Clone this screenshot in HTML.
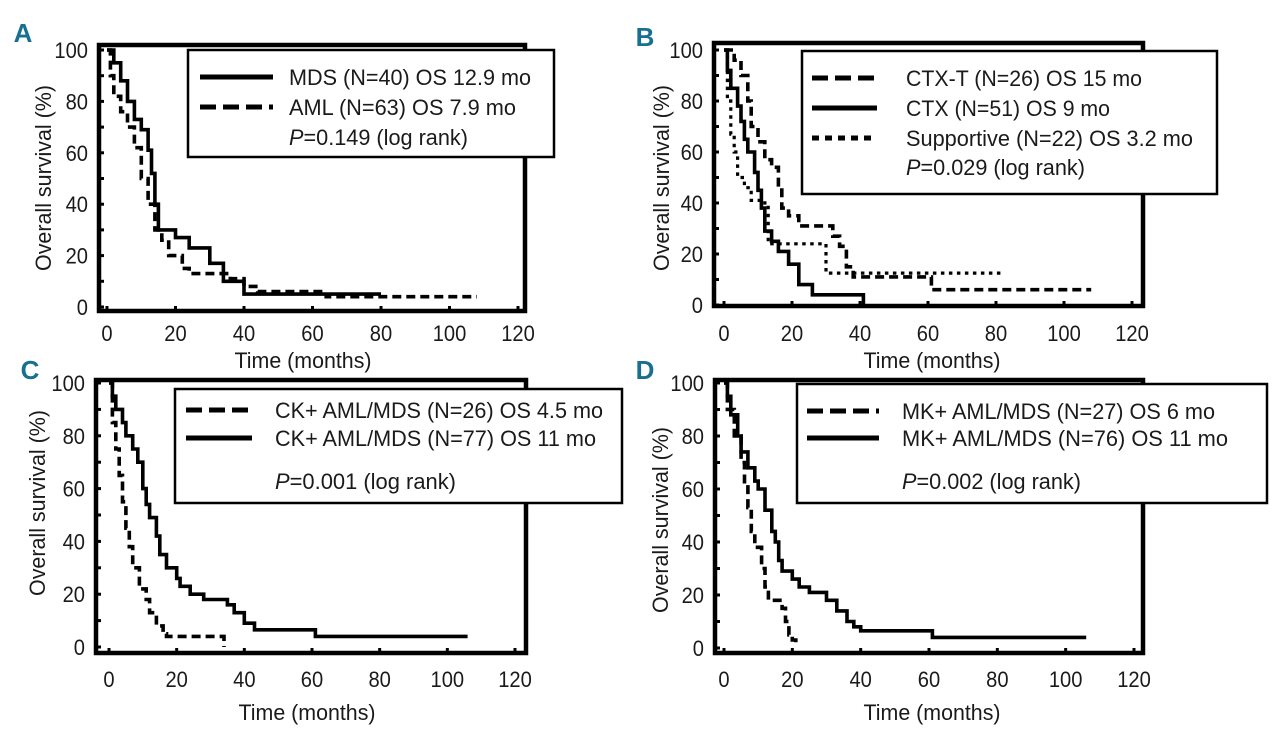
<!DOCTYPE html>
<html><head><meta charset="utf-8"><style>
html,body{margin:0;padding:0;background:#fff;}
svg{display:block;}
text{font-family:"Liberation Sans Narrow","Liberation Sans",sans-serif;fill:#1a1a1a;}
</style></head><body>
<svg id="fig" width="1280" height="738" viewBox="0 0 1280 738"></svg>
<script>
// ---- Data (months, survival %) ----
const xTicks = [0,20,40,60,80,100,120];
const yTicks = [0,20,40,60,80,100];
// Panel A
const aMdsT = [0,2,4,6,8,10,12,13,14,15,20,24,30,34,40,80];
const aMdsS = [100,95,88,80,73,69,61,52,40,30,27,23,17,10,5,5];
const aAmlT = [0,1,2,4,6,8,10,12,14,16,18,22,24,36,40,44,62,64,108];
const aAmlS = [100,90,82,76,70,62,50,40,30,26,20,15,13,11,8,6,6,4,4];
// Panel B
const bCtxtT = [0,3,5,7,8,10,12,14,16,17,19,22,32,34,36,38,60,61,108];
const bCtxtS = [100,96,90,80,70,64,57,54,46,38,35,31,27,23,15,11,11,6,6];
const bCtxT = [0,1,2,4,5,6,7,9,10,11,12,14,16,19,22,26,40,41];
const bCtxS = [100,92,85,78,72,65,60,52,45,38,29,25,21,16,8,4,4,0];
const bSupT = [0,1,2,3,4,6,8,12,13,29,30,82];
const bSupS = [100,80,67,60,50,46,41,40,24,24,12.5,12.5];
// Panel C
const cPosT = [0,1,2,3,4,5,6,7,9,11,12,14,16,17,33,34];
const cPosS = [100,85,75,65,55,45,38,30,22,18,13,8,5,4,4,0];
const cNegT = [0,1,2,4,5,7,8.5,10,11,12,14,15,17,20,21,24,28,35,37,40,43,60,61,106];
const cNegS = [100,95,90,85,80,75,70,60,54,49,42,35,30,26,23,20,18,16,13,9,6.5,6.5,4,4];
// Panel D
const dPosT = [0,1,3,5,6,7,8,9,11,12,13,17,18,19,20,21];
const dPosS = [100,90,80,70,62,53,44,38,30,23,18,15,10,5,3,1];
const dNegT = [0,1,2,4,5,7,9,10,12,14,15,16,17,20,22,25,30,33,36,38,40,60,61,106];
const dNegS = [100,95,88,80,74,68,63,60,52,44,40,33,29,26,23,21,18,14,10,8,6.5,6.5,4,4];

const NS='http://www.w3.org/2000/svg';
const svg=document.getElementById('fig');
function mk(tag,attrs,parent){const e=document.createElementNS(NS,tag);for(const k in attrs)e.setAttribute(k,attrs[k]);(parent||svg).appendChild(e);return e;}
function txt(str,attrs,parent){const e=mk('text',attrs,parent);e.textContent=str;return e;}

const panels=[
 {id:'a',letter:'A',lx:23,ly:42,frame:[99,45,525,311],x0:107,x120:518,y0:307,y100:50,
  xLabY:333,xTitle:[303,360],yTitle:[43,178],
  legend:{box:[188,50,554,157],sx:[200,273],tx:289,
   items:[{txt:'MDS (N=40) OS 12.9 mo',y:77,len:242,style:'solid'},{txt:'AML (N=63) OS 7.9 mo',y:107,len:227,style:'dash'},{txt:'P=0.149 (log rank)',y:137,len:179,style:null}]},
  series:[{name:'mds-curve',t:aMdsT,s:aMdsS,style:'solid'},{name:'aml-curve',t:aAmlT,s:aAmlS,style:'dash'}]},
 {id:'b',letter:'B',lx:645,ly:46,frame:[714,43,1143,306],x0:724,x120:1132,y0:305,y100:50,
  xLabY:333,xTitle:[932,360],yTitle:[661,178],
  legend:{box:[802,51,1217,194],sx:[812,877],tx:906,
   items:[{txt:'CTX-T (N=26) OS 15 mo',y:78,len:236,style:'dash'},{txt:'CTX (N=51) OS 9 mo',y:108,len:204,style:'solid'},{txt:'Supportive (N=22) OS 3.2 mo',y:138,len:287,style:'dot'},{txt:'P=0.029 (log rank)',y:167,len:179,style:null}]},
  series:[{name:'ctx-t-curve',t:bCtxtT,s:bCtxtS,style:'dash'},{name:'ctx-curve',t:bCtxT,s:bCtxS,style:'solid'},{name:'supportive-curve',t:bSupT,s:bSupS,style:'dot'}]},
 {id:'c',letter:'C',lx:30,ly:379,frame:[96,380,526,653],x0:109,x120:515,y0:647,y100:383,
  xLabY:679,xTitle:[307,712],yTitle:[37,503],
  legend:{box:[175,389,622,503],sx:[186,252],tx:275,
   items:[{txt:'CK+ AML/MDS (N=26) OS 4.5 mo',y:410,len:328,style:'dash'},{txt:'CK+ AML/MDS (N=77) OS 11 mo',y:438,len:321,style:'solid'},{txt:'P=0.001 (log rank)',y:481,len:181,style:null}]},
  series:[{name:'ck-pos-curve',t:cPosT,s:cPosS,style:'dash'},{name:'ck-neg-curve',t:cNegT,s:cNegS,style:'solid'}]},
 {id:'d',letter:'D',lx:645,ly:379,frame:[715,380,1143,653],x0:724,x120:1134,y0:648,y100:383,
  xLabY:679,xTitle:[932,712],yTitle:[660,520],
  legend:{box:[797,384,1267,503],sx:[807,879],tx:902,
   items:[{txt:'MK+ AML/MDS (N=27) OS 6 mo',y:411,len:313,style:'dash'},{txt:'MK+ AML/MDS (N=76) OS 11 mo',y:438,len:326,style:'solid'},{txt:'P=0.002 (log rank)',y:481,len:179,style:null}]},
  series:[{name:'mk-pos-curve',t:dPosT,s:dPosS,style:'dash'},{name:'mk-neg-curve',t:dNegT,s:dNegS,style:'solid'}]}
];
const dashes={solid:'none',dash:'9 5',dot:'3.5 4.5'};

panels.forEach(p=>{
 const g=mk('g',{});
 
 
 const X=v=>p.x0+(p.x120-p.x0)*v/120;
 const Y=v=>p.y0-(p.y0-p.y100)*v/100;
 const L=txt(p.letter,{x:p.lx,y:p.ly,'text-anchor':'middle','font-size':26,'font-weight':'bold',style:'fill:#17708f'},g);
 
 
 const [fx1,fy1,fx2,fy2]=p.frame;
 p.series.forEach(sr=>{
  let d='M'+X(sr.t[0])+' '+Y(sr.s[0]);
  for(let i=1;i<sr.t.length;i++){d+=' H'+X(sr.t[i]).toFixed(1)+' V'+Y(sr.s[i]).toFixed(1);}
  const pa=mk('path',{d:d,fill:'none',stroke:'#000','stroke-width':sr.style==='dot'?3.2:3.6,'stroke-dasharray':dashes[sr.style]},g);
  
  
 });
 const fr=mk('rect',{x:fx1,y:fy1,width:fx2-fx1,height:fy2-fy1,fill:'none',stroke:'#000','stroke-width':4.5},g);
 
 
 for(let v=0;v<=100;v+=10){mk('line',{x1:fx1,x2:fx1+5,y1:Y(v),y2:Y(v),stroke:'#000','stroke-width':3},g);}
 yTicks.forEach(v=>{
  const t=txt(String(v),{x:fx1-11,y:Y(v)+8,'text-anchor':'end','font-size':22,textLength:String(v).length*11.2,lengthAdjust:'spacingAndGlyphs'},g);
  
  
 });
 xTicks.forEach(v=>{
  mk('line',{x1:X(v),x2:X(v),y1:fy2,y2:fy2-5,stroke:'#000','stroke-width':3},g);
  const t=txt(String(v),{x:X(v),y:p.xLabY+8,'text-anchor':'middle','font-size':22,textLength:String(v).length*11.2,lengthAdjust:'spacingAndGlyphs'},g);
  
  
 });
 const xt=txt('Time (months)',{x:p.xTitle[0],y:p.xTitle[1]+8,'text-anchor':'middle','font-size':22,textLength:137,lengthAdjust:'spacingAndGlyphs'},g);
 
 
 const yt=txt('Overall survival (%)',{x:0,y:0,'text-anchor':'middle','font-size':22,textLength:186,lengthAdjust:'spacingAndGlyphs',transform:`translate(${p.yTitle[0]+8},${p.yTitle[1]}) rotate(-90)`},g);
 
 
 const lg=mk('g',{},g);
 
 
 const b=p.legend.box;
 mk('rect',{x:b[0],y:b[1],width:b[2]-b[0],height:b[3]-b[1],fill:'#fff',stroke:'#000','stroke-width':2.5},lg);
 p.legend.items.forEach(it=>{
  if(it.style){
   const ln=mk('line',{x1:p.legend.sx[0],x2:p.legend.sx[1],y1:it.y,y2:it.y,stroke:'#000','stroke-width':5,'stroke-dasharray':it.style==='dash'?'16 7':(it.style==='dot'?'7 6':'none')},lg);
   
   
  }
  let t;
  if(it.style===null){
   t=txt('',{x:p.legend.tx,y:it.y+8,'font-size':22,textLength:it.len,lengthAdjust:'spacingAndGlyphs'},lg);
   const ts=mk('tspan',{'font-style':'italic'},t);ts.textContent='P';
   const ts2=mk('tspan',{},t);ts2.textContent=it.txt.slice(1);
  } else {
   t=txt(it.txt,{x:p.legend.tx,y:it.y+8,'font-size':22,textLength:it.len,lengthAdjust:'spacingAndGlyphs'},lg);
  }
  
  
 });
});
</script>
</body></html>
